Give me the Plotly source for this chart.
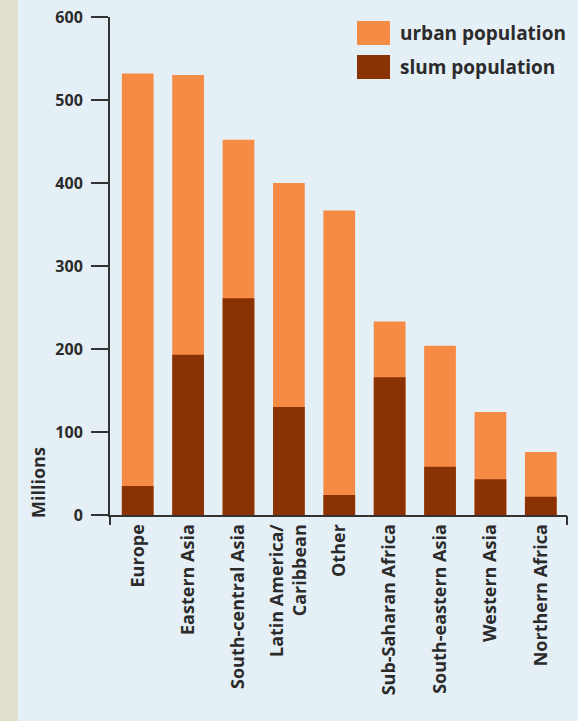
import plotly.graph_objects as go

categories = ["Europe", "Eastern Asia", "South-central Asia", "Latin America/<br>Caribbean",
              "Other", "Sub-Saharan Africa", "South-eastern Asia", "Western Asia", "Northern Africa"]
urban_population = [532, 530, 452, 400, 367, 233, 204, 124, 76]
slum_population = [35, 193, 261, 130, 24, 166, 58, 43, 22]
y_ticks = [0, 100, 200, 300, 400, 500, 600]

ORANGE = "#F68B45"
BROWN = "#8A3203"
BG = "#E5EFF6"
BEIGE = "#E2DFCD"
INK = "#2B2B2B"
FONT = "Open Sans"

xpos = list(range(len(categories)))

fig = go.Figure()
fig.add_trace(go.Bar(x=xpos, y=urban_population, name="urban population",
                     marker=dict(color=ORANGE, line=dict(width=0)), width=0.63))
fig.add_trace(go.Bar(x=xpos, y=slum_population, name="slum population",
                     marker=dict(color=BROWN, line=dict(width=0)), width=0.63))
# invisible trace to carry the end ticks of the x axis
fig.add_trace(go.Scatter(x=[-0.55], y=[0], xaxis="x2", mode="markers",
                         marker=dict(opacity=0), showlegend=False, hoverinfo="skip"))

xr = [-0.55, 8.52]
fig.update_layout(
    width=578, height=721,
    margin=dict(l=110, r=11, t=17, b=206),
    paper_bgcolor=BG, plot_bgcolor=BG,
    barmode="overlay", showlegend=False,
    font=dict(family=FONT, color=INK),
    xaxis=dict(range=xr, tickmode="array", tickvals=xpos, ticktext=categories,
               tickangle=-90, ticks="", showgrid=False, zeroline=False,
               showline=True, linecolor="#333", linewidth=2, automargin=False,
               tickfont=dict(family=FONT, size=18, weight="bold", color=INK)),
    xaxis2=dict(range=xr, overlaying="x", anchor="y", side="bottom",
                tickmode="array", tickvals=xr, ticks="outside", ticklen=9,
                tickwidth=2, tickcolor="#333", showticklabels=False,
                showgrid=False, zeroline=False, showline=False),
    yaxis=dict(range=[0, 600], tickmode="array", tickvals=y_ticks,
               ticks="outside", ticklen=17, tickwidth=1.6, tickcolor="#333",
               showgrid=False, zeroline=False, showline=True, linecolor="#333",
               linewidth=2, ticklabelstandoff=5, automargin=False,
               tickfont=dict(family=FONT, size=16, weight="bold", color=INK)),
)

# left beige strip
fig.add_shape(type="rect", xref="paper", yref="paper",
              x0=-0.3, x1=(18 - 110) / 457, y0=-0.5, y1=1.1,
              fillcolor=BEIGE, line=dict(width=0), layer="below")

# y-axis title
fig.add_annotation(text="Millions", xref="paper", yref="paper",
                   x=(38 - 110) / 457, y=(515 - 483) / 498, textangle=-90,
                   showarrow=False, xanchor="center", yanchor="middle",
                   font=dict(family=FONT, size=18, weight="bold", color=INK))

# custom legend
legend_items = [("urban population", ORANGE, 21, 45), ("slum population", BROWN, 55, 79)]
for label, color, ytop, ybot in legend_items:
    fig.add_shape(type="rect", xref="paper", yref="paper",
                  x0=(357 - 110) / 457, x1=(390 - 110) / 457,
                  y0=(515 - ybot) / 498, y1=(515 - ytop) / 498,
                  fillcolor=color, line=dict(width=0))
    fig.add_annotation(text=label, xref="paper", yref="paper",
                       x=(398 - 110) / 457, y=(515 - (ytop + ybot) / 2) / 498,
                       showarrow=False, xanchor="left", yanchor="middle",
                       font=dict(family=FONT, size=19, weight="bold", color=INK))

fig.write_html("out.html", config={"displayModeBar": False},
               post_script="document.body.style.margin='0';")
